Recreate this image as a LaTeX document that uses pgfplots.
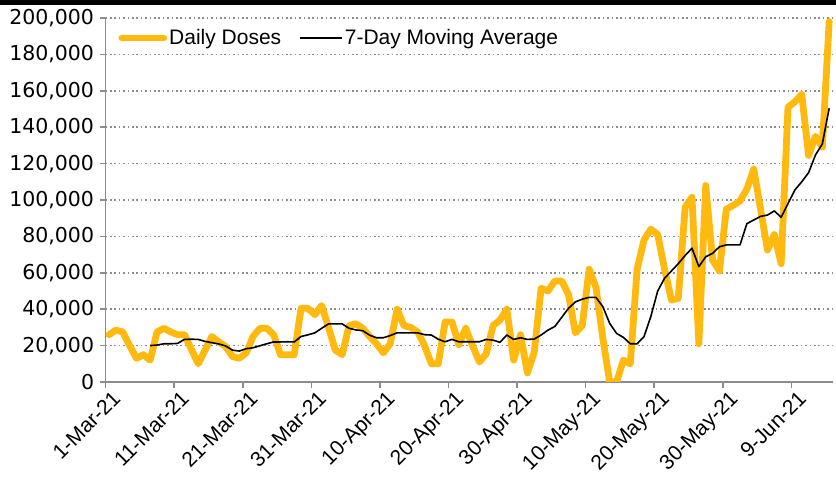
\documentclass[border=0pt]{standalone}
\usepackage{fontspec}
\setmainfont{Liberation Sans}
\newfontfamily\tickfont{DejaVu Sans}
\usepackage{pgfplots}
\usepackage{pgfplotstable}
\pgfplotsset{compat=1.18}
\definecolor{dose}{RGB}{255,185,15}
\definecolor{axgray}{RGB}{140,140,140}

\pgfplotstableread{
d v
0 26000
1 28500
2 27500
3 20000
4 13000
5 15000
6 12000
7 27500
8 29500
9 27500
10 26000
11 26000
12 18000
13 10000
14 17500
15 25000
16 22000
17 19500
18 14000
19 13000
20 16000
21 25000
22 29500
23 29500
24 26000
25 15000
26 15000
27 15000
28 40500
29 40500
30 37000
31 42000
32 30000
33 17500
34 15000
35 31000
36 32000
37 29500
38 25000
39 21000
40 16000
41 21000
42 40000
43 31000
44 30000
45 27500
46 20000
47 10000
48 10000
49 33000
50 33000
51 20500
52 29500
53 20000
54 11000
55 15500
56 31000
57 34000
58 40000
59 12000
60 26000
61 5000
62 16500
63 51500
64 50000
65 55500
66 55500
67 48000
68 27000
69 31000
70 62000
71 52000
72 24000
73 0
74 0
75 12000
76 10000
77 62000
78 78000
79 84000
80 81000
81 62000
82 45000
83 46000
84 96000
85 101500
86 21000
87 108000
88 67000
89 61000
90 95000
91 97000
92 99500
93 106000
94 117000
95 95000
96 72500
97 81000
98 65000
99 151000
100 154000
101 158000
102 124500
103 135000
104 129000
105 198000
}\daily

\pgfplotstableread{
d v
6 20000
7 20300
8 21000
9 21000
10 21200
11 23400
12 23500
13 23400
14 22300
15 21600
16 20900
17 19800
18 17500
19 17000
20 18300
21 18800
22 19900
23 21000
24 22000
25 22000
26 22100
27 22000
28 25000
29 25900
30 27000
31 29500
32 31900
33 31900
34 31900
35 29500
36 28600
37 28200
38 25700
39 24300
40 24300
41 25500
42 27000
43 27000
44 27000
45 27000
46 26000
47 25800
48 23500
49 22100
50 23400
51 22100
52 22100
53 22100
54 22100
55 23400
56 23000
57 21800
58 25800
59 23400
60 24300
61 23400
62 23600
63 25800
64 28500
65 30500
66 35500
67 40500
68 44000
69 45500
70 46500
71 46500
72 41400
73 32200
74 26700
75 24500
76 21000
77 21000
78 24900
79 36000
80 50000
81 57000
82 61000
83 65000
84 69500
85 73500
86 63400
87 68800
88 70700
89 74300
90 75300
91 75300
92 75300
93 87000
94 89000
95 91000
96 91700
97 94000
98 90500
99 98000
100 105500
101 110000
102 115000
103 124700
104 130800
105 150400
}\mavg

\begin{document}
\begin{tikzpicture}
\begin{axis}[
  scale only axis,
  width=727pt, height=364pt,
  xmin=-0.5, xmax=105.5,
  ymin=0, ymax=200000,
  axis x line*=bottom, axis y line*=left,
  axis line style={axgray, line width=1.6pt},
  xtick={-0.5,9.5,19.5,29.5,39.5,49.5,59.5,69.5,79.5,89.5,99.5},
  xticklabels={1-Mar-21,11-Mar-21,21-Mar-21,31-Mar-21,10-Apr-21,20-Apr-21,30-Apr-21,10-May-21,20-May-21,30-May-21,9-Jun-21},
  ytick={0,20000,...,200000},
  scaled y ticks=false,
  /pgf/number format/assume math mode=true,
  yticklabel style={/pgf/number format/fixed, /pgf/number format/1000 sep={,}, font=\tickfont\fontsize{20.5}{20.5}\selectfont, xshift=-2pt},
  xticklabel style={rotate=45, anchor=north east, font=\fontsize{21}{21}\selectfont, inner sep=1pt, xshift=4pt, yshift=-4pt},
  tick align=outside,
  major tick length=6pt,
  tick style={axgray, line width=1.6pt},
  ymajorgrids,
  grid style={axgray, line width=1.6pt, dash pattern=on 1.6pt off 2.8pt},
  legend columns=2,
  legend style={at={(rel axis cs:0.016,0.945)}, anchor=west, draw=none, fill=white,
    font=\fontsize{21}{22}\selectfont, inner sep=1pt,
    /tikz/every even column/.append style={column sep=16pt}},
  legend cell align=left,
  legend image code/.code={\draw[#1] (0pt,0pt) -- (42pt,0pt);},
]
\coordinate (ll) at (rel axis cs:0,0);
\coordinate (ur) at (rel axis cs:1,1);
\addplot[dose, line width=6.8pt, line join=round, line cap=round] table[x=d, y=v] {\daily};
\addlegendentry{Daily Doses}
\addplot[black, line width=1.6pt, line join=round] table[x=d, y=v] {\mavg};
\addlegendentry{7-Day Moving Average}
\end{axis}
\pgfresetboundingbox
\path ([shift={(-105.6pt,-101pt)}]ll) rectangle ([shift={(3.4pt,18pt)}]ur);
\fill[black] ([shift={(-105.6pt,13pt)}]ur -| ll) rectangle ([shift={(3.4pt,18pt)}]ur);
\end{tikzpicture}
\end{document}
